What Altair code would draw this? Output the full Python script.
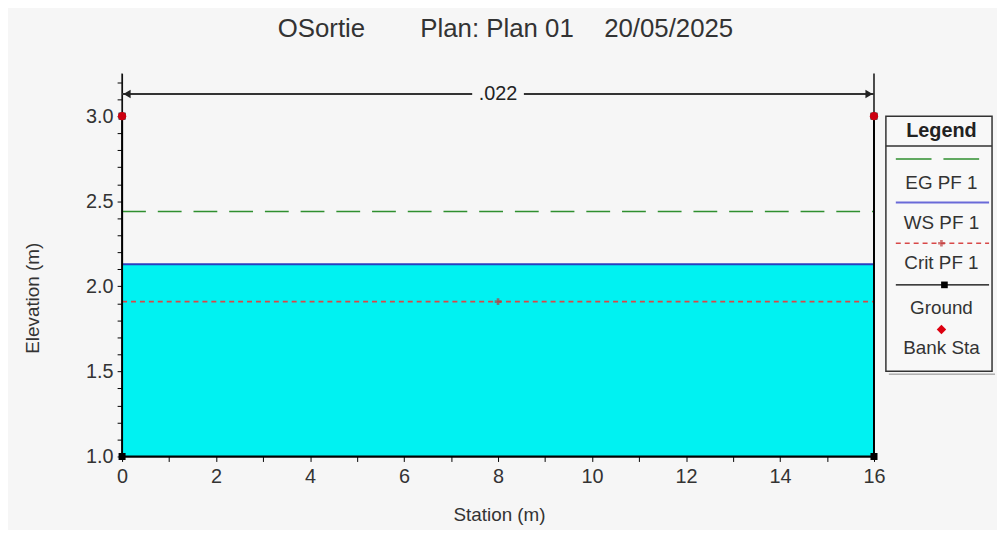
import altair as alt
import pandas as pd

# ---------------- data ----------------
ground_station = [0, 0, 16, 16]
ground_elev = [3.0, 1.0, 1.0, 3.0]
bank_station = [0, 16]
bank_elev = [3.0, 3.0]
span_station = [0, 16]
ws_elev = 2.13
eg_elev = 2.44
crit_elev = 1.91
crit_marker_station = 8
n_value_label = ".022"
n_value_elev = 3.13
n_label_gap = [7.45, 8.55]
bed_elev = 1.0
x_ticks = list(range(0, 17))
y_ticks = [round(1.0 + 0.1 * i, 1) for i in range(0, 23)]
title_parts = ["OSortie", "Plan: Plan 01", "20/05/2025"]
legend_labels = ["EG PF 1", "WS PF 1", "Crit PF 1", "Ground", "Bank Sta"]

FONT = "Liberation Sans, Arial, sans-serif"
W, H = 758, 386
BG = "#f6f6f6"

xs = alt.Scale(domain=[0, 16], nice=False, zero=False)
ys = alt.Scale(domain=[1.0, 3.25], nice=False, zero=False)

x_axis = alt.Axis(
    values=x_ticks, labelExpr="datum.value % 2 == 0 ? datum.label : ''",
    labelOverlap=False, labelFlush=False,
    grid=False, tickSize=5, tickColor="#000", domainColor="#000",
    labelFont=FONT, labelFontSize=20, labelColor="#333", labelPadding=5,
    title="Station (m)", titleFont=FONT, titleFontSize=19, titleFontWeight="normal",
    titleColor="#333", titleX=380, titleY=59, titleBaseline="middle", titleAlign="center",
)
y_axis = alt.Axis(
    values=y_ticks,
    labelExpr="round(datum.value*10) % 5 == 0 ? format(datum.value, '.1f') : ''",
    labelOverlap=False, labelFlush=False,
    grid=False, tickSize=5, tickColor="#000", domainColor="#000",
    labelFont=FONT, labelFontSize=20, labelColor="#333", labelPadding=4,
    title="Elevation (m)", titleFont=FONT, titleFontSize=19, titleFontWeight="normal",
    titleColor="#333", titleX=-90, titleY=226, titleAngle=-90,
    titleBaseline="middle", titleAlign="center",
)


def X(field):
    return alt.X(field, scale=xs, axis=x_axis)


def Y(field):
    return alt.Y(field, scale=ys, axis=y_axis)


ground_df = pd.DataFrame({"station": ground_station, "elev": ground_elev,
                          "order": list(range(len(ground_station)))})
span_df = pd.DataFrame({"station": span_station})
bank_df = pd.DataFrame({"station": bank_station, "elev": bank_elev})

water = alt.Chart(span_df).mark_area(color="#00F2F2", opacity=1).encode(
    x=X("station:Q"), y=Y("ws:Q"), y2="bed:Q",
).transform_calculate(ws=str(ws_elev), bed=str(bed_elev))

eg = alt.Chart(span_df).mark_line(color="#2f8f2f", strokeWidth=1.5, strokeDash=[24, 12]).encode(
    x=X("station:Q"), y=Y("e:Q")
).transform_calculate(e=str(eg_elev))

ws = alt.Chart(span_df).mark_line(color="#2a3fc0", strokeWidth=2).encode(
    x=X("station:Q"), y=Y("e:Q")
).transform_calculate(e=str(ws_elev))

crit = alt.Chart(span_df).mark_line(color="#d84848", strokeWidth=2, strokeDash=[5, 4]).encode(
    x=X("station:Q"), y=Y("e:Q")
).transform_calculate(e=str(crit_elev))

crit_pt = alt.Chart(pd.DataFrame({"station": [crit_marker_station], "e": [crit_elev]})).mark_point(
    shape="cross", filled=True, color="#b04040", size=45
).encode(x=X("station:Q"), y=Y("e:Q"))

ground = alt.Chart(ground_df).mark_line(color="#000", strokeWidth=2).encode(
    x=X("station:Q"), y=Y("elev:Q"), order="order:Q"
)
ground_pts = alt.Chart(ground_df).mark_square(color="#000", size=50, opacity=1).encode(
    x=X("station:Q"), y=Y("elev:Q")
)

nbound = alt.Chart(bank_df).mark_rule(color="#111", strokeWidth=1.5).encode(
    x=X("station:Q"), y=Y("elev:Q"), y2=alt.value(0)
)

arrow_df = pd.DataFrame({"x1": [span_station[0], n_label_gap[1]],
                         "x2": [n_label_gap[0], span_station[1]],
                         "e": [n_value_elev, n_value_elev]})
arrow = alt.Chart(arrow_df).mark_rule(color="#333", strokeWidth=2).encode(
    x=X("x1:Q"), x2="x2:Q", y=Y("e:Q")
)
ah_left = alt.Chart(pd.DataFrame({"station": [span_station[0]], "e": [n_value_elev]})).mark_point(
    shape="triangle-left", filled=True, color="#222", size=70, xOffset=5, opacity=1
).encode(x=X("station:Q"), y=Y("e:Q"))
ah_right = alt.Chart(pd.DataFrame({"station": [span_station[1]], "e": [n_value_elev]})).mark_point(
    shape="triangle-right", filled=True, color="#222", size=70, xOffset=-5, opacity=1
).encode(x=X("station:Q"), y=Y("e:Q"))
n_text = alt.Chart(pd.DataFrame({"station": [sum(span_station) / 2], "e": [n_value_elev],
                                 "t": [n_value_label]})).mark_text(
    font=FONT, fontSize=20, color="#222", baseline="middle"
).encode(x=X("station:Q"), y=Y("e:Q"), text="t:N")

bank = alt.Chart(bank_df).mark_circle(color="#cc0010", size=70, opacity=1).encode(
    x=X("station:Q"), y=Y("elev:Q")
)

one = pd.DataFrame({"a": [0]})

# title pieces
title_x = [201, 378, 551]
title_layers = [
    alt.Chart(one).mark_text(text=t, font=FONT, fontSize=26, color="#333", baseline="middle").encode(
        x=alt.value(px), y=alt.value(-45))
    for t, px in zip(title_parts, title_x)
]

# custom legend (pixel layout, relative to the plot area)
LX0, LX1, LY0, LY1 = 770, 877, 43, 300
LC = 826
leg = [
    alt.Chart(one).mark_rect(fill="#f8f8f8", stroke="#333", strokeWidth=1.5).encode(
        x=alt.value(LX0), x2=alt.value(LX1), y=alt.value(LY0), y2=alt.value(LY1)),
    alt.Chart(one).mark_rule(color="#888", strokeWidth=1).encode(
        x=alt.value(LX0 + 3), x2=alt.value(LX1 + 3), y=alt.value(LY1 + 3)),
    alt.Chart(one).mark_text(text="Legend", font=FONT, fontSize=20, fontWeight="bold",
                             color="#222", baseline="middle").encode(x=alt.value(LC), y=alt.value(58)),
    alt.Chart(one).mark_rule(color="#333", strokeWidth=1.5).encode(
        x=alt.value(LX0), x2=alt.value(LX1), y=alt.value(73)),
    alt.Chart(one).mark_rule(color="#2f8f2f", strokeWidth=1.5, strokeDash=[36, 12]).encode(
        x=alt.value(780), x2=alt.value(866), y=alt.value(86)),
    alt.Chart(one).mark_rule(color="#6a6ad8", strokeWidth=2).encode(
        x=alt.value(780), x2=alt.value(874), y=alt.value(130)),
    alt.Chart(one).mark_rule(color="#d84848", strokeWidth=1.5, strokeDash=[5, 4]).encode(
        x=alt.value(780), x2=alt.value(874), y=alt.value(171)),
    alt.Chart(one).mark_point(shape="cross", filled=True, color="#c04040", size=45).encode(
        x=alt.value(LC), y=alt.value(171)),
    alt.Chart(one).mark_rule(color="#000", strokeWidth=1.5).encode(
        x=alt.value(780), x2=alt.value(874), y=alt.value(213)),
    alt.Chart(one).mark_square(color="#000", size=45, opacity=1).encode(
        x=alt.value(829), y=alt.value(213)),
    alt.Chart(one).mark_point(shape="diamond", filled=True, color="#dd0010", size=90, opacity=1).encode(
        x=alt.value(LC), y=alt.value(258)),
]
for lab, py in zip(legend_labels, [110, 151, 191, 236, 277]):
    leg.append(alt.Chart(one).mark_text(text=lab, font=FONT, fontSize=19, color="#333",
                                        baseline="middle").encode(x=alt.value(LC), y=alt.value(py)))

chart = alt.layer(
    water, eg, ws, crit, crit_pt, nbound, ground, ground_pts, arrow, ah_left, ah_right, n_text,
    bank, *title_layers, *leg
).properties(
    width=W, height=H,
    autosize=alt.AutoSizeParams(type="none"),
    padding={"left": 115, "top": 64, "right": 124, "bottom": 72},
    background=BG,
).configure_view(stroke=None).configure_axis(labelOverlap=False)

chart.save("out.html", embed_options={"renderer": "svg", "actions": False})
